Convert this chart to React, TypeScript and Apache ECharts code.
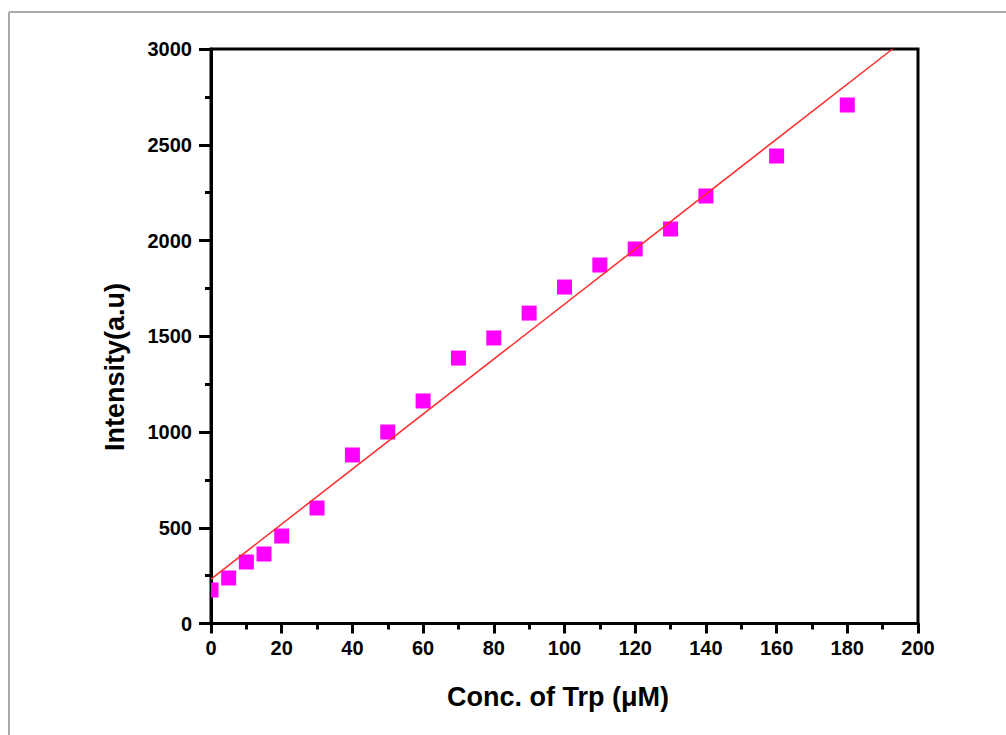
import React, { useEffect, useRef } from "react";
import * as echarts from "echarts";

const concentrations = [0, 5, 10, 15, 20, 30, 40, 50, 60, 70, 80, 90, 100, 110, 120, 130, 140, 160, 180];
const intensities = [175, 238, 321, 363, 457, 603, 880, 1000, 1162, 1386, 1491, 1621, 1757, 1872, 1956, 2060, 2232, 2441, 2708];
const fitX = [0, 192.8];
const fitY = [232, 3000];

const xTitle = "Conc. of Trp (\u03bcM)";
const yTitle = "Intensity(a.u)";

const FONT = "'Liberation Sans', Arial, sans-serif";

export default function App() {
  const ref = useRef<HTMLDivElement>(null);

  useEffect(() => {
    if (!ref.current) return;
    const chart = echarts.init(ref.current, undefined, { renderer: "svg" });
    const points = concentrations.map((c, i) => [c, intensities[i]]);
    const fit = fitX.map((x, i) => [x, fitY[i]]);
    const axisCommon = {
      axisLine: { show: true, onZero: false, lineStyle: { color: "#000", width: 3 } },
      axisTick: { show: true, inside: false, length: 10, lineStyle: { color: "#000", width: 3 } },
      minorTick: { show: true, splitNumber: 2, length: 6, lineStyle: { color: "#000", width: 3 } },
      splitLine: { show: false },
      minorSplitLine: { show: false },
    };
    const titleStyle = {
      fill: "#000",
      fontFamily: FONT,
      fontWeight: "bold",
      fontSize: 27,
      align: "center",
      verticalAlign: "middle",
    };
    chart.setOption({
      animation: false,
      backgroundColor: "#fff",
      grid: {
        left: 211,
        right: 88,
        top: 49,
        bottom: 111.5,
        show: true,
        borderColor: "#000",
        borderWidth: 3,
        backgroundColor: "transparent",
      },
      graphic: [
        {
          type: "line",
          shape: { x1: 9, y1: 12, x2: 9, y2: 735 },
          style: { stroke: "#aaaaaa", lineWidth: 2 },
          silent: true,
        },
        {
          type: "line",
          shape: { x1: 9, y1: 12, x2: 1006, y2: 12 },
          style: { stroke: "#aaaaaa", lineWidth: 2 },
          silent: true,
        },
        {
          type: "text",
          x: 558,
          y: 697,
          style: { ...titleStyle, text: xTitle },
        },
        {
          type: "text",
          x: 115,
          y: 367,
          rotation: Math.PI / 2,
          style: { ...titleStyle, text: yTitle },
        },
      ],
      xAxis: {
        type: "value",
        min: 0,
        max: 200,
        interval: 20,
        ...axisCommon,
        axisLabel: {
          margin: 14,
          color: "#000",
          fontFamily: FONT,
          fontWeight: "bold",
          fontSize: 20,
          formatter: (v: number) => String(v),
        },
      },
      yAxis: {
        type: "value",
        min: 0,
        max: 3000,
        interval: 500,
        ...axisCommon,
        axisTick: { show: true, inside: false, length: 12, lineStyle: { color: "#000", width: 3 } },
        axisLabel: {
          margin: 19,
          color: "#000",
          fontFamily: FONT,
          fontWeight: "bold",
          fontSize: 20,
          formatter: (v: number) => String(v),
        },
      },
      series: [
        {
          type: "line",
          data: fit,
          symbol: "none",
          clip: true,
          lineStyle: { color: "#ff2a2a", width: 1.5 },
          z: 3,
        },
        {
          type: "custom",
          clip: true,
          data: points,
          z: 2,
          renderItem: (params: any, api: any) => {
            const p = api.coord([api.value(0), api.value(1)]);
            const s = 15;
            const cs = params.coordSys;
            const x0 = Math.max(p[0] - s / 2, cs.x);
            const x1 = Math.min(p[0] + s / 2, cs.x + cs.width);
            const y0 = Math.max(p[1] - s / 2, cs.y);
            const y1 = Math.min(p[1] + s / 2, cs.y + cs.height);
            return {
              type: "rect",
              shape: { x: x0, y: y0, width: Math.max(0, x1 - x0), height: Math.max(0, y1 - y0) },
              style: { fill: "#ff00ff" },
            };
          },
        },
      ],
    });
    return () => chart.dispose();
  }, []);

  return (
    <div
      ref={ref}
      style={{ position: "absolute", left: 0, top: 0, width: 1006, height: 735 }}
    />
  );
}
